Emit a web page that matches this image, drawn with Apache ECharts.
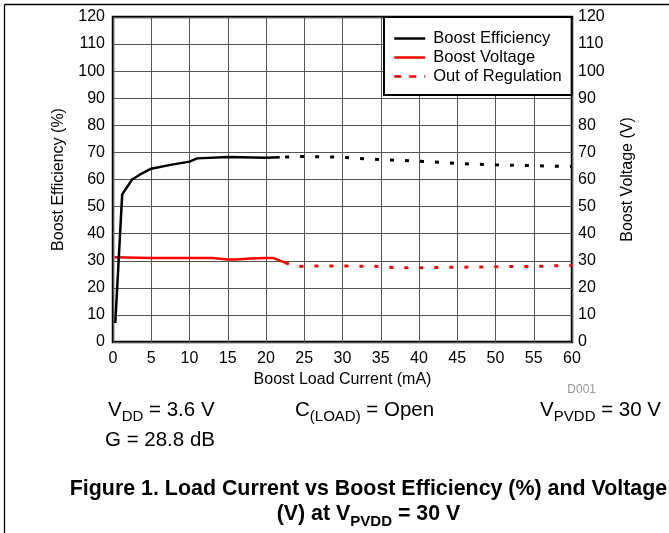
<!DOCTYPE html>
<html>
<head>
<meta charset="utf-8">
<script src="https://cdn.jsdelivr.net/npm/echarts@6/dist/echarts.min.js"></script>
<style>html,body{margin:0;padding:0;background:#fff;}#c{width:669px;height:533px;}</style>
</head>
<body>
<div id="c"></div>
<script>
// ---- data ----
const effCurrent = [0.3, 1.2, 2.5, 3.8, 5, 7.5, 10, 11, 15, 20, 21.8];
const effValue   = [7, 54.5, 60, 62.3, 64, 65.4, 66.6, 67.8, 68.3, 68, 68.2];
const effOutCurrent = [22.5, 25, 30, 35, 40, 45, 50, 55, 60];
const effOutValue   = [68.3, 68.5, 68.2, 67.3, 66.8, 65.9, 65.4, 65.1, 64.8];
const voltCurrent = [0.2, 5, 10, 13, 15, 16, 18, 20, 21, 22.5];
const voltValue   = [31.3, 31, 31, 31, 30.5, 30.5, 30.8, 31, 31, 29.3];
const voltOutCurrent = [22.5, 24, 25, 30, 35, 37, 40, 45, 50, 55, 60];
const voltOutValue   = [29.3, 27.8, 28, 28.1, 27.9, 27.4, 27.4, 27.6, 27.8, 27.9, 28.3];
const legendNames = ['Boost Efficiency', 'Boost Voltage', 'Out of Regulation'];

const F = 'Liberation Sans, Arial, sans-serif';
const zip = (xs, ys) => xs.map((x, i) => [x, ys[i]]);
const noDot = { opacity: 0, borderWidth: 0 };

const chart = echarts.init(document.getElementById('c'));
chart.setOption({
  animation: false,
  backgroundColor: '#fff',
  textStyle: { fontFamily: F, color: '#000' },
  grid: { left: 113, right: 97, top: 17, bottom: 191, show: true, borderColor: '#000', borderWidth: 2.5, backgroundColor: 'transparent' },
  legend: {
    data: [
      { name: legendNames[0], itemStyle: noDot, lineStyle: { width: 2.5, color: '#000' } },
      { name: legendNames[1], itemStyle: noDot, lineStyle: { width: 2.5, color: '#f00' } },
      { name: legendNames[2], itemStyle: noDot, lineStyle: { type: [7, 8], width: 2.5, color: '#f00' } }
    ],
    orient: 'vertical', left: 384, top: 17,
    itemWidth: 31, itemHeight: 14, itemGap: 0,
    padding: [12, 10, 9, 9],
    borderColor: '#000', borderWidth: 2, backgroundColor: '#fff',
    textStyle: { fontSize: 16.5, lineHeight: 19, color: '#000', fontFamily: F, padding: [0, 0, 0, 3] }
  },
  xAxis: {
    type: 'value', min: 0, max: 60, interval: 5,
    axisLine: { show: false }, axisTick: { show: false },
    splitLine: { show: true, lineStyle: { color: '#555', width: 1 } },
    axisLabel: { fontSize: 16, color: '#000', margin: 9, fontFamily: F },
    name: 'Boost Load Current (mA)', nameLocation: 'middle', nameGap: 29,
    nameTextStyle: { fontSize: 16, color: '#000', fontFamily: F }
  },
  yAxis: [
    {
      type: 'value', min: 0, max: 120, interval: 10, position: 'left',
      axisLine: { show: false }, axisTick: { show: false },
      splitLine: { show: true, lineStyle: { color: '#555', width: 1 } },
      axisLabel: { fontSize: 16, color: '#000', margin: 8, fontFamily: F },
      name: 'Boost Efficiency (%)', nameLocation: 'middle', nameGap: 46, nameRotate: 90,
      nameTextStyle: { fontSize: 16, color: '#000', fontFamily: F }
    },
    {
      type: 'value', min: 0, max: 120, interval: 10, position: 'right',
      axisLine: { show: false }, axisTick: { show: false },
      splitLine: { show: false },
      axisLabel: { fontSize: 16, color: '#000', margin: 6, fontFamily: F },
      name: 'Boost Voltage (V)', nameLocation: 'middle', nameGap: 48, nameRotate: 90,
      nameTextStyle: { fontSize: 16, color: '#000', fontFamily: F }
    }
  ],
  series: [
    { name: legendNames[0], type: 'line', yAxisIndex: 0, symbol: 'none', data: zip(effCurrent, effValue),
      itemStyle: { color: '#000' }, lineStyle: { color: '#000', width: 2.5 }, z: 4 },
    { name: legendNames[1], type: 'line', yAxisIndex: 1, symbol: 'none', data: zip(voltCurrent, voltValue),
      itemStyle: { color: '#f00' }, lineStyle: { color: '#f00', width: 2.5 }, z: 3 },
    { name: legendNames[2], type: 'line', yAxisIndex: 1, symbol: 'none', data: zip(voltOutCurrent, voltOutValue),
      itemStyle: { color: '#f00' }, lineStyle: { color: '#f00', width: 3, type: [4, 11] }, z: 3 },
    { name: 'Efficiency (Out of Regulation)', type: 'line', yAxisIndex: 0, symbol: 'none', data: zip(effOutCurrent, effOutValue),
      itemStyle: { color: '#000' }, lineStyle: { color: '#000', width: 3, type: [4, 11] }, z: 4 }
  ],
  graphic: [
    { type: 'line', shape: { x1: 4.5, y1: 4.5, x2: 669, y2: 4.5 }, style: { stroke: '#000', lineWidth: 1.3 } },
    { type: 'line', shape: { x1: 4.5, y1: 4.5, x2: 4.5, y2: 533 }, style: { stroke: '#000', lineWidth: 1.3 } },
    { type: 'text', x: 596, y: 390, style: { text: 'D001', font: '12px ' + F, fill: '#999', align: 'right', verticalAlign: 'middle' } },
    { type: 'text', x: 108, y: 400, style: { text: '{n|V}{s|DD}{n| = 3.6 V}', fill: '#000', align: 'left', verticalAlign: 'top',
        rich: { n: { fontSize: 20.5, lineHeight: 24, verticalAlign: 'top', fontFamily: F }, s: { fontSize: 15, lineHeight: 14, verticalAlign: 'bottom', fontFamily: F } } } },
    { type: 'text', x: 295, y: 400, style: { text: '{n|C}{s|(LOAD)}{n| = Open}', fill: '#000', align: 'left', verticalAlign: 'top',
        rich: { n: { fontSize: 20.5, lineHeight: 24, verticalAlign: 'top', fontFamily: F }, s: { fontSize: 15, lineHeight: 14, verticalAlign: 'bottom', fontFamily: F } } } },
    { type: 'text', x: 661, y: 400, style: { text: '{n|V}{s|PVDD}{n| = 30 V}', fill: '#000', align: 'right', verticalAlign: 'top',
        rich: { n: { fontSize: 20.5, lineHeight: 24, verticalAlign: 'top', fontFamily: F }, s: { fontSize: 15, lineHeight: 14, verticalAlign: 'bottom', fontFamily: F } } } },
    { type: 'text', x: 105, y: 430, style: { text: 'G = 28.8 dB', font: '20.5px ' + F, fill: '#000', align: 'left', verticalAlign: 'top' } },
    { type: 'text', x: 368.5, y: 489, style: { text: 'Figure 1. Load Current vs Boost Efficiency (%) and Voltage', font: 'bold 21.4px ' + F, fill: '#000', align: 'center', verticalAlign: 'middle' } },
    { type: 'text', x: 368.5, y: 504, style: { text: '{n|(V) at V}{s|PVDD}{n| = 30 V}', fill: '#000', align: 'center', verticalAlign: 'top',
        rich: { n: { fontSize: 21.4, fontWeight: 'bold', lineHeight: 25, verticalAlign: 'top', fontFamily: F }, s: { fontSize: 15, fontWeight: 'bold', lineHeight: 14, verticalAlign: 'bottom', fontFamily: F } } } }
  ]
});
</script>
</body>
</html>
